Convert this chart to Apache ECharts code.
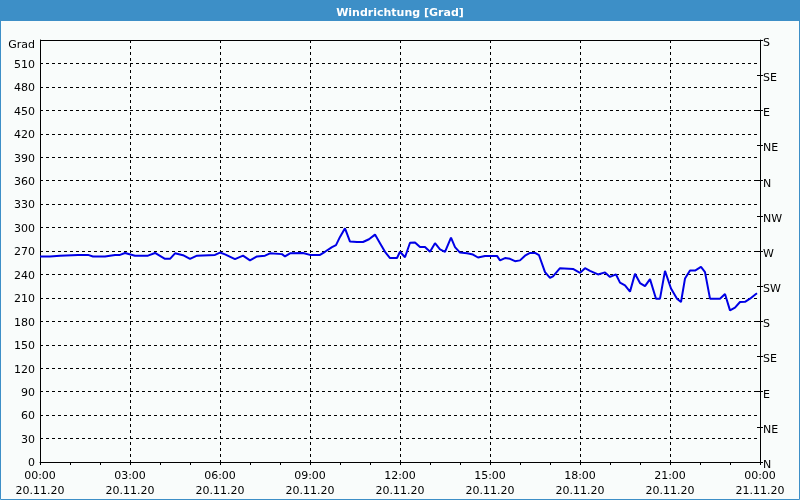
<!DOCTYPE html>
<html>
<head>
<meta charset="utf-8">
<script src="https://cdn.jsdelivr.net/npm/echarts@6/dist/echarts.min.js"></script>
<style>
html,body{margin:0;padding:0;background:#f9fcfb;}
#c{width:800px;height:500px;}
</style>
</head>
<body>
<div id="c"></div>
<script>
var titleText = 'Windrichtung [Grad]';
var times = ['00:00','00:20','00:40','01:16','01:36','01:46','02:10','02:30','02:40','02:50',
'03:10','03:36','03:50','04:10','04:20','04:30','04:46','05:00','05:14','05:50',
'06:00','06:10','06:30','06:46','07:00','07:14','07:30','07:40','08:04','08:10',
'08:20','08:46','09:00','09:20','09:30','09:44','09:52','10:00','10:10','10:20',
'10:34','10:38','10:46','10:58','11:10','11:20','11:30','11:40','11:54','12:00',
'12:10','12:20','12:30','12:40','12:50','13:00','13:10','13:20','13:30','13:42',
'13:50','14:00','14:14','14:26','14:36','14:50','15:14','15:20','15:30','15:40',
'15:50','16:00','16:10','16:20','16:30','16:38','16:50','17:00','17:06','17:20',
'17:46','18:00','18:10','18:20','18:36','18:50','19:00','19:12','19:20','19:30',
'19:40','19:50','20:00','20:10','20:20','20:32','20:40','20:50','21:02','21:14',
'21:22','21:30','21:40','21:50','22:02','22:10','22:20','22:40','22:50','23:00',
'23:10','23:20','23:30','23:40','23:50','23:54'];
var direction = [263,263,264,265,265,263,263,265,265,267.5,
264,264,267.5,260,260,267,264.6,260,264,265,
268,265.7,259.5,264,258,263,264,267,266,263,
267,267.5,265,265,269,275,277.5,288,299,282,
281.5,279,281.5,285,291,280,269,261,261,269,
262,280.5,281,275,275,269,280,272,269,287,
275,268,267,265.5,261.7,263.7,263.7,258,261,260,
257,258,264,267.6,267.6,264.6,243,235.5,237.5,248,
247,242,248,244.5,240,242.6,236.8,240,229.5,226,
218,241,229,225,234,209,209,244.5,222,209,
204.7,234.7,245,245,249.6,243,209,209,215,194,
197.5,204.7,205,209,214,216];
var compassLabels = ['N','NE','E','SE','S','SW','W','NW','N','NE','E','SE','S'];
var dateLabels = ['20.11.20','20.11.20','20.11.20','20.11.20','20.11.20','20.11.20','20.11.20','20.11.20','21.11.20'];

function toHours(s){var p=s.split(':');return +p[0]+ (+p[1])/60;}
var seriesData = times.map(function(t,i){return [toHours(t), direction[i]];});

var font = 'DejaVu Sans';
var chart = echarts.init(document.getElementById('c'), null, {renderer:'canvas'});
chart.setOption({
  backgroundColor:'#f9fcfb',
  animation:false,
  title:{text:titleText,left:'center',top:3,textStyle:{color:'#ffffff',fontFamily:font,fontSize:11,fontWeight:'bold'}},
  graphic:[
    {type:'rect',z:-1,shape:{x:0,y:0,width:800,height:21},style:{fill:'#3d8fc7'}},
    {type:'rect',z:-1,shape:{x:0.5,y:0.5,width:799,height:499},style:{fill:'none',stroke:'#3d8fc7',lineWidth:1}}
  ],
  grid:{left:40,right:40,top:40,bottom:38,show:false},
  xAxis:{type:'value',min:0,max:24,interval:3,
    axisLine:{show:true,onZero:false,lineStyle:{color:'#000',width:1}},
    axisTick:{show:true,length:3,lineStyle:{color:'#000'}},
    minorTick:{show:true,splitNumber:3,length:3,lineStyle:{color:'#000'}},
    splitLine:{show:true,lineStyle:{color:'#000',type:[3,3],width:1}},
    axisLabel:{fontFamily:font,fontSize:11,color:'#000',margin:7,lineHeight:15,
      formatter:function(v){var h=Math.round(v)%24;var i=Math.round(v/3);return (h<10?'0':'')+h+':00\n'+dateLabels[i];}}
  },
  yAxis:[
    {type:'value',min:0,max:540,interval:30,position:'left',
     axisLine:{show:true,lineStyle:{color:'#000'}},
     axisTick:{show:false},
     splitLine:{show:true,lineStyle:{color:'#000',type:[3,3],width:1}},
     axisLabel:{fontFamily:font,fontSize:11,color:'#000',margin:5,
       rich:{g:{fontFamily:font,fontSize:11,color:'#000',padding:[10,0,0,0]},
             n:{fontFamily:font,fontSize:11,color:'#000',padding:[3,0,0,0]}},
       formatter:function(v){return v===540?'{g|Grad}':'{n|'+v+'}';}}
    },
    {type:'value',min:0,max:540,interval:45,position:'right',
     axisLine:{show:true,lineStyle:{color:'#000'}},
     axisTick:{show:true,length:3,lineStyle:{color:'#000'}},
     splitLine:{show:false},
     axisLabel:{fontFamily:font,fontSize:11,color:'#000',margin:3,
       rich:{r:{fontFamily:font,fontSize:11,color:'#000',padding:[6,0,0,0]}},
       formatter:function(v){return '{r|'+compassLabels[Math.round(v/45)]+'}';}}
    },
    {type:'value',min:0,max:540,interval:45,position:'right',
     axisLine:{show:false},
     axisTick:{show:true,inside:true,length:3,lineStyle:{color:'#000'}},
     splitLine:{show:false},axisLabel:{show:false}
    }
  ],
  series:[{type:'line',data:seriesData,yAxisIndex:0,showSymbol:false,
    lineStyle:{color:'#0000e6',width:2},
    markLine:{silent:true,symbol:'none',label:{show:false},lineStyle:{color:'#000',type:'solid',width:1},data:[{yAxis:540}]}
  }]
});
</script>
</body>
</html>
